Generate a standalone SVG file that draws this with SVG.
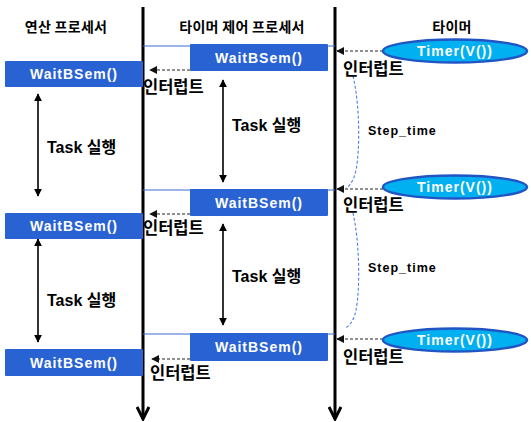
<svg xmlns="http://www.w3.org/2000/svg" width="531" height="422" viewBox="0 0 531 422">
<defs>
<marker id="fa" viewBox="0 0 10 10" refX="9" refY="5" markerWidth="8" markerHeight="8" markerUnits="userSpaceOnUse" orient="auto-start-reverse"><path d="M0,0 L10,5 L0,10 z" fill="#000"/></marker>
<marker id="da" viewBox="0 0 10 10" refX="9" refY="5" markerWidth="8" markerHeight="8" markerUnits="userSpaceOnUse" orient="auto"><path d="M0,0 L10,5 L0,10 z" fill="#111"/></marker>
<marker id="oa" viewBox="0 0 16 14" refX="14" refY="7" markerWidth="16" markerHeight="14" markerUnits="userSpaceOnUse" orient="auto"><path d="M2,1 L14,7 L2,13" fill="none" stroke="#000" stroke-width="3"/></marker>
<style>
.life{stroke:#000;stroke-width:3;fill:none}
.hdr{font-family:"Noto Sans CJK KR","Noto Sans",sans-serif;font-weight:bold;font-size:14px;letter-spacing:0.3px;fill:#000;text-anchor:middle}
.box{fill:#2962d3}
.bt{font-family:"Liberation Sans",Arial,sans-serif;font-weight:bold;font-size:14px;letter-spacing:1px;fill:#fff;text-anchor:middle}
.ell{fill:#00b0f0;stroke:#2255c4;stroke-width:2.5}
.int{font-family:"Noto Sans CJK KR","Noto Sans",sans-serif;font-weight:bold;font-size:16.5px;fill:#000}
.task{font-family:"Liberation Sans","Noto Sans CJK KR",sans-serif;font-weight:bold;font-size:16px;fill:#000}
.step{font-family:"Liberation Sans",Arial,sans-serif;font-weight:bold;font-size:12.5px;letter-spacing:1px;fill:#000}
.dash{stroke:#222;stroke-width:1.2;stroke-dasharray:3,2;fill:none}
.thin{stroke:#3b6fd6;stroke-width:1.2;fill:none}
.brace{stroke:#4a7fe0;stroke-width:1.1;stroke-dasharray:3,2;fill:none}
.tarr{stroke:#000;stroke-width:1.6;fill:none}
</style>
</defs>

<g id="headers">
<text class="hdr" x="66" y="32">연산 프로세서</text>
<text class="hdr" x="242" y="32">타이머 제어 프로세서</text>
<text class="hdr" x="452" y="32">타이머</text>
</g>

<g id="connectors">
<line class="life" x1="143" y1="7" x2="143" y2="419" marker-end="url(#oa)"/>
<line class="life" x1="335" y1="7" x2="335" y2="419" marker-end="url(#oa)"/>
<line class="thin" x1="143" y1="46" x2="335" y2="46"/>
<line class="thin" x1="143" y1="190" x2="335" y2="190"/>
<line class="thin" x1="143" y1="334" x2="335" y2="334"/>
<line class="dash" x1="190" y1="70" x2="150" y2="70" marker-end="url(#da)"/>
<line class="dash" x1="190" y1="214" x2="150" y2="214" marker-end="url(#da)"/>
<line class="dash" x1="190" y1="359" x2="152" y2="359" marker-end="url(#da)"/>
<line class="dash" x1="383" y1="51" x2="337" y2="51" marker-end="url(#da)"/>
<line class="dash" x1="383" y1="189" x2="337" y2="189" marker-end="url(#da)"/>
<line class="dash" x1="383" y1="339" x2="337" y2="339" marker-end="url(#da)"/>
<line class="tarr" x1="38" y1="94" x2="38" y2="196" marker-start="url(#fa)" marker-end="url(#fa)"/>
<line class="tarr" x1="38" y1="239" x2="38" y2="342" marker-start="url(#fa)" marker-end="url(#fa)"/>
<line class="tarr" x1="223" y1="80" x2="223" y2="182" marker-start="url(#fa)" marker-end="url(#fa)"/>
<line class="tarr" x1="223" y1="224" x2="223" y2="325" marker-start="url(#fa)" marker-end="url(#fa)"/>
<path class="brace" d="M353,76 C360,105 360,150 356,170 C354,180 350,186 346,188"/>
<path class="brace" d="M353,213 C360,245 360,290 356,310 C354,320 350,326 345,328"/>
</g>

<g id="calc-box-1"><rect class="box" x="5" y="61" width="138" height="26" rx="1"/><text class="bt" x="74" y="79">WaitBSem()</text></g>
<g id="calc-box-2"><rect class="box" x="5" y="213" width="138" height="26" rx="1"/><text class="bt" x="74" y="231">WaitBSem()</text></g>
<g id="calc-box-3"><rect class="box" x="5" y="349" width="138" height="27" rx="1"/><text class="bt" x="74" y="368">WaitBSem()</text></g>

<g id="ctrl-box-1"><rect class="box" x="190" y="44" width="138" height="27" rx="1"/><text class="bt" x="259" y="63">WaitBSem()</text></g>
<g id="ctrl-box-2"><rect class="box" x="190" y="189" width="138" height="27" rx="1"/><text class="bt" x="259" y="208">WaitBSem()</text></g>
<g id="ctrl-box-3"><rect class="box" x="190" y="333" width="138" height="28" rx="1"/><text class="bt" x="259" y="352">WaitBSem()</text></g>

<g id="timer-1"><ellipse class="ell" cx="455" cy="51" rx="72" ry="11.5"/><text class="bt" x="455" y="56">Timer(V())</text></g>
<g id="timer-2"><ellipse class="ell" cx="455" cy="187" rx="72" ry="11.5"/><text class="bt" x="455" y="192">Timer(V())</text></g>
<g id="timer-3"><ellipse class="ell" cx="455" cy="340" rx="72" ry="11.5"/><text class="bt" x="455" y="345">Timer(V())</text></g>

<g id="labels">
<text class="int" x="143" y="93">인터럽트</text>
<text class="int" x="143" y="234">인터럽트</text>
<text class="int" x="150" y="379">인터럽트</text>
<text class="int" x="343" y="75">인터럽트</text>
<text class="int" x="343" y="211">인터럽트</text>
<text class="int" x="343" y="363">인터럽트</text>
<text class="task" x="47" y="153">Task 실행</text>
<text class="task" x="47" y="306">Task 실행</text>
<text class="task" x="232" y="131">Task 실행</text>
<text class="task" x="232" y="282">Task 실행</text>
<text class="step" x="368" y="135">Step_time</text>
<text class="step" x="368" y="272">Step_time</text>
</g>
</svg>
